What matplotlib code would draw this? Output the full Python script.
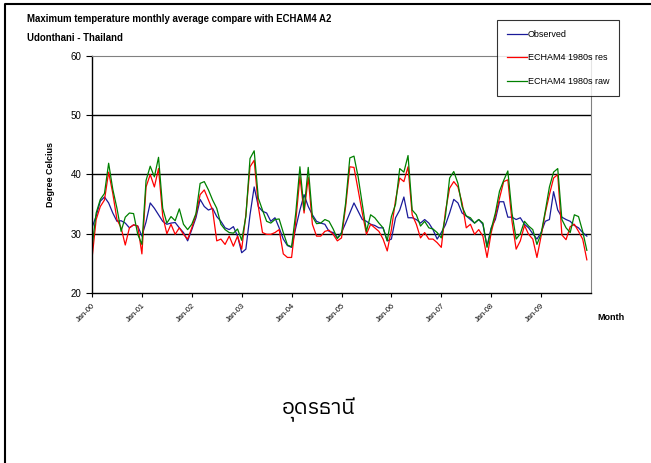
import numpy as np
import matplotlib.pyplot as plt
from matplotlib import font_manager
from matplotlib.ft2font import FT2Font
from matplotlib.lines import Line2D

# monthly maximum temperature, Jan-2000 .. Dec-2009
observed = [
    31.0, 33.0, 35.5, 36.2, 35.2, 33.5, 32.1, 32.2, 31.8, 31.0, 31.5, 31.3,
    29.6, 32.0, 35.2, 34.3, 33.2, 32.1, 31.6, 31.8, 31.9, 31.0, 30.2, 28.8,
    30.7, 32.7, 35.8, 34.6, 34.0, 34.3, 32.9, 32.1, 31.0, 30.7, 31.2, 29.6,
    26.8, 27.4, 33.2, 37.9, 34.6, 33.8, 33.5, 32.1, 32.7, 31.0, 29.1, 28.0,
    27.7, 31.0, 34.0, 36.6, 34.6, 33.2, 32.1, 31.8, 31.6, 30.4, 30.2, 29.3,
    30.2, 31.8, 33.5, 35.2, 33.8, 32.4, 32.1, 31.6, 31.4, 31.0, 31.0, 28.8,
    29.1, 32.7, 34.0, 36.2, 32.7, 32.7, 32.4, 31.8, 32.4, 31.8, 30.7, 29.1,
    30.2, 31.5, 33.5, 35.8, 35.2, 33.5, 33.0, 32.4, 31.8, 32.4, 31.6, 27.9,
    31.0, 32.4, 35.4, 35.4, 32.8, 32.8, 32.4, 32.7, 31.6, 31.0, 30.0, 29.1,
    30.2, 32.1, 32.4, 37.1, 34.0, 32.8, 32.4, 32.1, 31.4, 31.0, 30.2, 29.6,
]
echam_res = [
    25.8, 32.4, 34.6, 35.7, 40.4, 36.8, 32.4, 31.0, 28.1, 31.0, 31.5, 31.3,
    26.6, 37.9, 40.0, 37.9, 41.0, 33.0, 30.0, 31.6, 29.9, 31.0, 29.9, 29.1,
    31.0, 33.2, 36.6, 37.4, 35.7, 34.0, 28.8, 29.1, 28.2, 29.6, 27.9, 29.6,
    27.4, 33.2, 41.3, 42.4, 34.6, 30.2, 29.9, 29.9, 30.2, 30.7, 26.6, 26.0,
    26.0, 32.1, 39.6, 33.5, 39.5, 31.6, 29.6, 29.6, 30.4, 30.6, 29.9, 28.8,
    29.3, 34.6, 41.3, 41.2, 37.4, 33.5, 29.9, 31.6, 31.0, 30.4, 29.1, 27.1,
    30.7, 35.7, 39.4, 38.8, 41.3, 33.2, 31.6, 29.3, 30.2, 29.1, 29.1, 28.5,
    27.7, 33.8, 37.7, 38.8, 37.9, 35.2, 31.0, 31.6, 29.9, 30.7, 29.6, 26.0,
    30.2, 33.0, 36.0, 38.8, 39.1, 32.1, 27.4, 28.8, 31.4, 29.9, 29.1, 26.0,
    29.6, 33.5, 36.6, 39.4, 40.0, 29.8, 29.0, 31.2, 31.6, 30.4, 29.1, 25.6,
]
echam_raw = [
    27.7, 33.5, 35.8, 36.8, 41.9, 37.5, 34.3, 30.4, 32.8, 33.5, 33.4, 29.9,
    28.2, 39.0, 41.4, 39.6, 42.9, 34.3, 31.8, 32.9, 32.2, 34.2, 31.6, 30.7,
    31.6, 33.4, 38.5, 38.8, 37.4, 35.7, 34.3, 31.6, 30.7, 30.2, 30.1, 30.8,
    28.9, 32.9, 42.7, 44.0, 36.0, 34.0, 32.1, 31.8, 32.4, 32.5, 30.2, 28.1,
    27.8, 33.5, 41.3, 34.0, 41.2, 32.9, 31.7, 31.8, 32.4, 32.1, 30.8, 29.2,
    30.0, 35.2, 42.8, 43.1, 39.6, 35.0, 30.4, 33.2, 32.7, 31.8, 31.0, 28.8,
    32.9, 35.0, 41.0, 40.4, 43.2, 34.0, 33.2, 31.3, 32.1, 31.0, 30.8, 30.2,
    29.3, 33.0, 39.4, 40.5, 38.5, 34.6, 33.0, 32.7, 31.8, 32.4, 31.8, 27.7,
    30.8, 33.5, 37.2, 39.0, 40.6, 33.5, 29.1, 30.0, 32.1, 31.3, 30.7, 28.2,
    30.0, 33.8, 37.9, 40.4, 41.0, 32.4, 31.0, 30.2, 33.2, 32.9, 30.4, 27.2,
]
year_labels = ["Jan-00", "Jan-01", "Jan-02", "Jan-03", "Jan-04",
               "Jan-05", "Jan-06", "Jan-07", "Jan-08", "Jan-09"]

plt.rcParams['font.family'] = ['Liberation Sans', 'DejaVu Sans']


def thai_font():
    # pick an installed font with Thai glyphs; prefer regular sans faces whose
    # vowel marks have zero advance so they sit on the base letter
    best, best_score = None, -99
    for path in font_manager.findSystemFonts():
        try:
            ft = FT2Font(path)
            if 0x0E2D not in ft.get_charmap():
                continue
            ft.set_size(12, 72)
            score = 2 if ft.load_char(0x0E38).horiAdvance == 0 else 0
        except Exception:
            continue
        name = path.lower()
        if 'sans' in name or 'loma' in name or 'garuda' in name:
            score += 1
        if 'serif' in name and 'sans' not in name:
            score -= 1
        if 'regular' in name:
            score += 1
        for w in ('bold', 'italic', 'oblique', 'thin', 'light', 'black',
                  'medium', 'semi', 'extra', 'condensed'):
            if w in name:
                score -= 2
        if score > best_score:
            best, best_score = path, score
    return font_manager.FontProperties(fname=best) if best else None


fig = plt.figure(figsize=(6.51, 4.63), dpi=100)
ax = fig.add_axes([92 / 651, 1 - 293 / 463, 499 / 651, 237 / 463])

months = np.arange(len(observed))
ax.plot(months, observed, color='#1a1a99', lw=0.9, label='Observed')
ax.plot(months, echam_res, color='#ff0000', lw=0.9, label='ECHAM4 1980s res')
ax.plot(months, echam_raw, color='#008000', lw=0.9, label='ECHAM4 1980s raw')

ax.set_xlim(0, 120)
ax.set_ylim(20, 60)
ax.set_yticks([20, 30, 40, 50, 60])
ax.set_xticks(np.arange(0, 120, 12))
ax.set_xticklabels(year_labels, rotation=45, ha='right', rotation_mode='anchor', fontsize=5.5)
ax.tick_params(axis='y', labelsize=7, length=4, width=0.8, direction='out')
ax.tick_params(axis='x', length=3, width=0.8, direction='out')
for y in (30, 40, 50):
    ax.axhline(y, color='black', lw=1.0, zorder=0)
ax.spines['left'].set_linewidth(1.0)
ax.spines['bottom'].set_linewidth(1.0)
ax.spines['top'].set_color('#808080')
ax.spines['right'].set_color('#808080')

ax.set_ylabel('Degree Celcius', fontsize=6.5, fontweight='bold', labelpad=11)
fig.text(597 / 651, 1 - 320 / 463, 'Month', fontsize=6.5, fontweight='bold')

fig.text(27 / 651, 1 - 22 / 463, 'Maximum temperature monthly average compare with ECHAM4 A2',
         fontsize=6.9, fontweight='bold')
fig.text(27 / 651, 1 - 41 / 463, 'Udonthani - Thailand', fontsize=6.9, fontweight='bold')

leg = fig.legend(loc='upper left', bbox_to_anchor=(497 / 651, 1 - 20 / 463),
                 fontsize=6.5, frameon=True, fancybox=False, edgecolor='black',
                 labelspacing=1.6, handlelength=2.2, handletextpad=0.1,
                 borderpad=1.1, borderaxespad=0)
leg.get_frame().set_linewidth(0.8)

fig.text(0.49, 1 - 410 / 463, 'อุดรธานี', fontsize=15.5, ha='center', va='center',
         color='black', fontproperties=thai_font())

# page frame, top and left edges
fig.lines.append(Line2D([0.007, 0.007, 1.0], [0.0, 0.992, 0.992],
                        transform=fig.transFigure, color='black', lw=1.5))

fig.savefig('out.png', dpi=100)
